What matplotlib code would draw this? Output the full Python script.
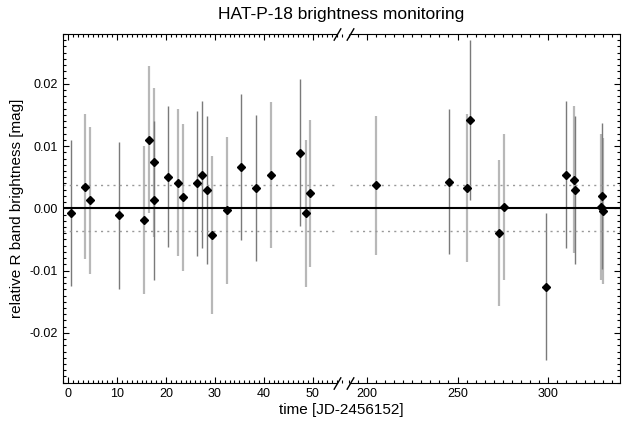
import numpy as np
import matplotlib
matplotlib.use('Agg')
import matplotlib.pyplot as plt
from matplotlib.ticker import MultipleLocator

plt.rcParams['font.family'] = ['Liberation Sans', 'DejaVu Sans']
plt.rcParams['axes.unicode_minus'] = False

# light grey error bars (first data set)
t_a = [3.4, 4.4, 15.5, 16.5, 17.5, 22.4, 23.4, 29.4, 32.5, 41.5, 48.6, 49.5,
       205.3, 255.4, 272.9, 275.6, 314.0, 329.0, 330.3]
v_a = [0.0035, 0.0013, -0.0019, 0.0110, 0.0074, 0.0041, 0.0018, -0.0043, -0.0003,
       0.0054, -0.0008, 0.0024, 0.0037, 0.0033, -0.0040, 0.0002, 0.0046, 0.0002, -0.0004]
e_a = [0.0117, 0.0118, 0.0119, 0.0118, 0.0120, 0.0118, 0.0118, 0.0127, 0.0118,
       0.0117, 0.0118, 0.0118, 0.0112, 0.0119, 0.0117, 0.0117, 0.0118, 0.0117, 0.0117]

# dark grey error bars (second data set)
t_b = [0.5, 10.4, 17.5, 20.5, 26.4, 27.4, 28.4, 35.4, 38.5, 47.5,
       245.5, 256.9, 298.9, 309.9, 314.9, 329.4]
v_b = [-0.0008, -0.0011, 0.0013, 0.0051, 0.0040, 0.0054, 0.0029, 0.0066, 0.0033, 0.0089,
       0.0043, 0.0142, -0.0126, 0.0054, 0.0030, 0.0020]
e_b = [0.0117, 0.0118, 0.0128, 0.0113, 0.0117, 0.0118, 0.0119, 0.0117, 0.0117, 0.0118,
       0.0117, 0.0129, 0.0118, 0.0118, 0.0119, 0.0117]

rms = 0.0037
seg_left = (0, 55)
seg_right = (191, 340)

W, H = 622, 421
fig = plt.figure(figsize=(W / 100, H / 100), dpi=100)
bot, hgt = 38.3 / H, 348.7 / H
ax1 = fig.add_axes([63 / W, bot, 280.5 / W, hgt])
ax2 = fig.add_axes([343.5 / W, bot, 276.5 / W, hgt])

for ax in (ax1, ax2):
    ax.errorbar(t_a, v_a, yerr=e_a, fmt='none', ecolor='#b8b8b8', elinewidth=1.6, capsize=0, zorder=2)
    ax.errorbar(t_b, v_b, yerr=e_b, fmt='none', ecolor='#7a7a7a', elinewidth=1.0, capsize=0, zorder=2)
    ax.axhline(0, color='k', lw=1.5, zorder=3)
    ax.plot(t_a, v_a, 'D', color='k', ms=3.8, zorder=4)
    ax.plot(t_b, v_b, 'D', color='k', ms=3.8, zorder=4)
    ax.set_ylim(-0.028, 0.028)
    ax.yaxis.set_major_locator(MultipleLocator(0.01))
    ax.yaxis.set_minor_locator(MultipleLocator(0.001))
    ax.tick_params(which='both', direction='in', top=True, labelsize=9, width=0.8)
    ax.tick_params(which='major', length=4.5)
    ax.tick_params(which='minor', length=2.2)

ax1.hlines([rms, -rms], seg_left[0] - 1.1, seg_left[1], colors='#999999', linestyles=(0, (1.5, 3)), lw=1)
ax2.hlines([rms, -rms], seg_right[0], seg_right[1], colors='#999999', linestyles=(0, (1.5, 3)), lw=1)

ax1.set_xlim(-1.08, 56.3)
ax2.set_xlim(187.2, 339.5)
ax1.xaxis.set_major_locator(MultipleLocator(10))
ax1.xaxis.set_minor_locator(MultipleLocator(1))
ax2.xaxis.set_major_locator(MultipleLocator(50))
ax2.xaxis.set_minor_locator(MultipleLocator(5))
ax1.yaxis.set_major_formatter(plt.FormatStrFormatter('%.2f'))

ax1.spines['right'].set_visible(False)
ax2.spines['left'].set_visible(False)
ax1.tick_params(which='both', right=False)
ax2.tick_params(which='both', left=False, right=True, labelleft=False)
for s in ('top', 'bottom'):
    ax1.spines[s].set_bounds(-1.08, seg_left[1])
    ax2.spines[s].set_bounds(seg_right[0], 339.5)

# break marks
kw = dict(marker=[(-1, -1.7), (1, 1.7)], markersize=9, linestyle='none',
          color='k', mec='k', mew=1, clip_on=False, zorder=5)
ax1.plot([seg_left[1], seg_left[1]], [0, 1], transform=ax1.get_xaxis_transform(), **kw)
ax2.plot([seg_right[0], seg_right[0]], [0, 1], transform=ax2.get_xaxis_transform(), **kw)

ax1.set_ylabel('relative R band brightness [mag]', fontsize=11, labelpad=4)
fig.text(0.549, 1 - 410 / H, 'time [JD-2456152]', ha='center', va='center', fontsize=11)
fig.text(0.549, 1 - 15 / H, 'HAT-P-18 brightness monitoring', ha='center', va='center', fontsize=12.5)

fig.savefig('out.png', dpi=100)
